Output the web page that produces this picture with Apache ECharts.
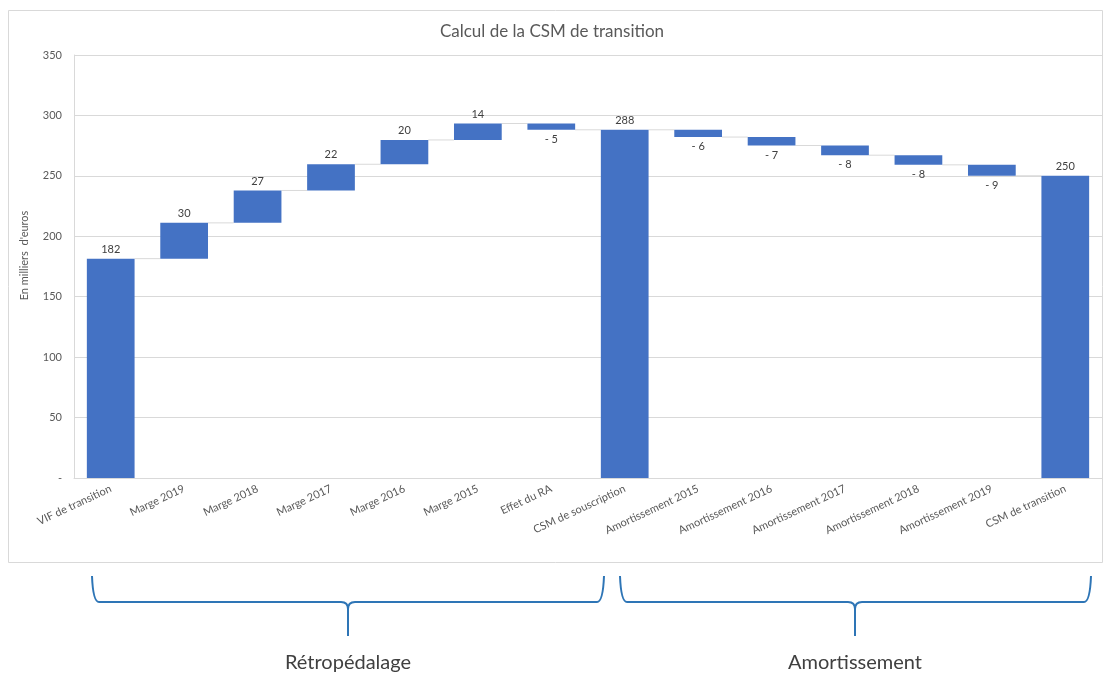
<!DOCTYPE html>
<html>
<head>
<meta charset="utf-8">
<script src="https://cdn.jsdelivr.net/npm/echarts@6/dist/echarts.min.js"></script>
<style>html,body{margin:0;padding:0;background:#fff;}#c{width:1104px;height:674px;}</style>
</head>
<body>
<div id="c"></div>
<script>
const categories = ['VIF de transition','Marge 2019','Marge 2018','Marge 2017','Marge 2016','Marge 2015','Effet du RA','CSM de souscription','Amortissement 2015','Amortissement 2016','Amortissement 2017','Amortissement 2018','Amortissement 2019','CSM de transition'];
const values = [181.5, 29.6, 26.8, 21.7, 20.1, 13.6, -5.2, 288.1, -6, -7, -8, -8, -9, 250.1];
const isTotal = [true, false, false, false, false, false, false, true, false, false, false, false, false, true];
const yTicks = [0, 50, 100, 150, 200, 250, 300, 350];
const groupLabels = ['Rétropédalage', 'Amortissement'];

const FONT = 'Lato';
const BLUE = '#4472C4';

// waterfall computation
const base = [], visible = [], ends = [];
let run = 0;
values.forEach((v, i) => {
  let start, end;
  if (isTotal[i]) { start = 0; end = v; run = v; }
  else { start = run; end = run + v; run = end; }
  ends.push(end);
  base.push(Math.min(start, end));
  const neg = !isTotal[i] && v < 0;
  visible.push({
    value: Math.abs(end - start),
    label: {
      show: true,
      position: neg ? 'bottom' : 'top',
      formatter: neg ? '- ' + Math.round(Math.abs(v)) : String(Math.round(v)),
      color: '#404040', fontSize: 11, fontFamily: FONT, distance: 4
    }
  });
});
const connectors = ends.slice(0, -1).map((e, i) => [i, e]);

function brace(x1, x2, xm, yTop, yH, yTip, color) {
  const r = 7, st = {stroke: color, lineWidth: 2, fill: 'none'};
  return [
    {type: 'bezierCurve', shape: {x1: x1, y1: yTop, cpx1: x1 + 1, cpy1: yH, x2: x1 + r, y2: yH}, style: st},
    {type: 'line', shape: {x1: x1 + r, y1: yH, x2: xm - r, y2: yH}, style: st},
    {type: 'bezierCurve', shape: {x1: xm - r, y1: yH, cpx1: xm, cpy1: yH, x2: xm, y2: yH + r}, style: st},
    {type: 'line', shape: {x1: xm, y1: yH + r, x2: xm, y2: yTip}, style: st},
    {type: 'bezierCurve', shape: {x1: xm + r, y1: yH, cpx1: xm, cpy1: yH, x2: xm, y2: yH + r}, style: st},
    {type: 'line', shape: {x1: xm + r, y1: yH, x2: x2 - r, y2: yH}, style: st},
    {type: 'bezierCurve', shape: {x1: x2 - r, y1: yH, cpx1: x2 - 1, cpy1: yH, x2: x2, y2: yTop}, style: st}
  ];
}

const chart = echarts.init(document.getElementById('c'), null, {renderer: 'canvas'});
const BAR_RATIO = 0.65;

const option = {
  animation: false,
  backgroundColor: '#fff',
  title: {
    text: 'Calcul de la CSM de transition',
    left: 'center', top: 18,
    textStyle: {color: '#595959', fontSize: 17, fontWeight: 'normal', fontFamily: FONT}
  },
  grid: {left: 74, right: 2, top: 55, bottom: 196},
  xAxis: {
    type: 'category',
    data: categories,
    axisTick: {show: false},
    axisLine: {lineStyle: {color: '#d9d9d9'}},
    axisLabel: {rotate: 25, color: '#595959', fontSize: 11, fontFamily: FONT, margin: 10, interval: 0}
  },
  yAxis: {
    type: 'value',
    min: yTicks[0], max: yTicks[yTicks.length - 1], interval: 50,
    name: "En milliers  d'euros",
    nameLocation: 'middle', nameGap: 44, nameRotate: 90,
    nameTextStyle: {color: '#595959', fontSize: 11, fontFamily: FONT, padding: [0, 0, 0, 22]},
    axisLine: {show: true, lineStyle: {color: '#d9d9d9'}},
    axisTick: {show: false},
    axisLabel: {color: '#595959', fontSize: 11, fontFamily: FONT, margin: 12,
      formatter: v => v === 0 ? '-' : String(v)},
    splitLine: {lineStyle: {color: '#d9d9d9'}}
  },
  series: [
    {
      type: 'bar', stack: 'w', data: base, barWidth: (BAR_RATIO * 100) + '%',
      itemStyle: {color: 'transparent'}, silent: true
    },
    {
      type: 'bar', stack: 'w', data: visible, barWidth: (BAR_RATIO * 100) + '%',
      itemStyle: {color: BLUE}
    },
    {
      type: 'custom', data: connectors, silent: true,
      renderItem: function (params, api) {
        const i = api.value(0), lvl = api.value(1);
        const bw = api.size([1, 0])[0] * BAR_RATIO;
        const p1 = api.coord([i, lvl]);
        const p2 = api.coord([i + 1, lvl]);
        return {
          type: 'line',
          shape: {x1: p1[0] + bw / 2, y1: p1[1], x2: p2[0] - bw / 2, y2: p2[1]},
          style: {stroke: '#d9d9d9', lineWidth: 1}
        };
      }
    }
  ],
  graphic: [
    {type: 'rect', shape: {x: 8.5, y: 10.5, width: 1094, height: 552},
     style: {fill: 'none', stroke: '#d9d9d9', lineWidth: 1}, silent: true}
  ].concat(brace(92, 604, 348, 576, 602, 636, '#2E75B6'))
   .concat(brace(620, 1091, 855, 576, 602, 636, '#2E75B6'))
   .concat([
    {type: 'text', x: 348, y: 663, style: {text: groupLabels[0], fill: '#404040', fontSize: 20, fontFamily: FONT, textAlign: 'center', textVerticalAlign: 'middle'}},
    {type: 'text', x: 855, y: 663, style: {text: groupLabels[1], fill: '#404040', fontSize: 20, fontFamily: FONT, textAlign: 'center', textVerticalAlign: 'middle'}}
  ])
};
chart.setOption(option);
</script>
</body>
</html>
